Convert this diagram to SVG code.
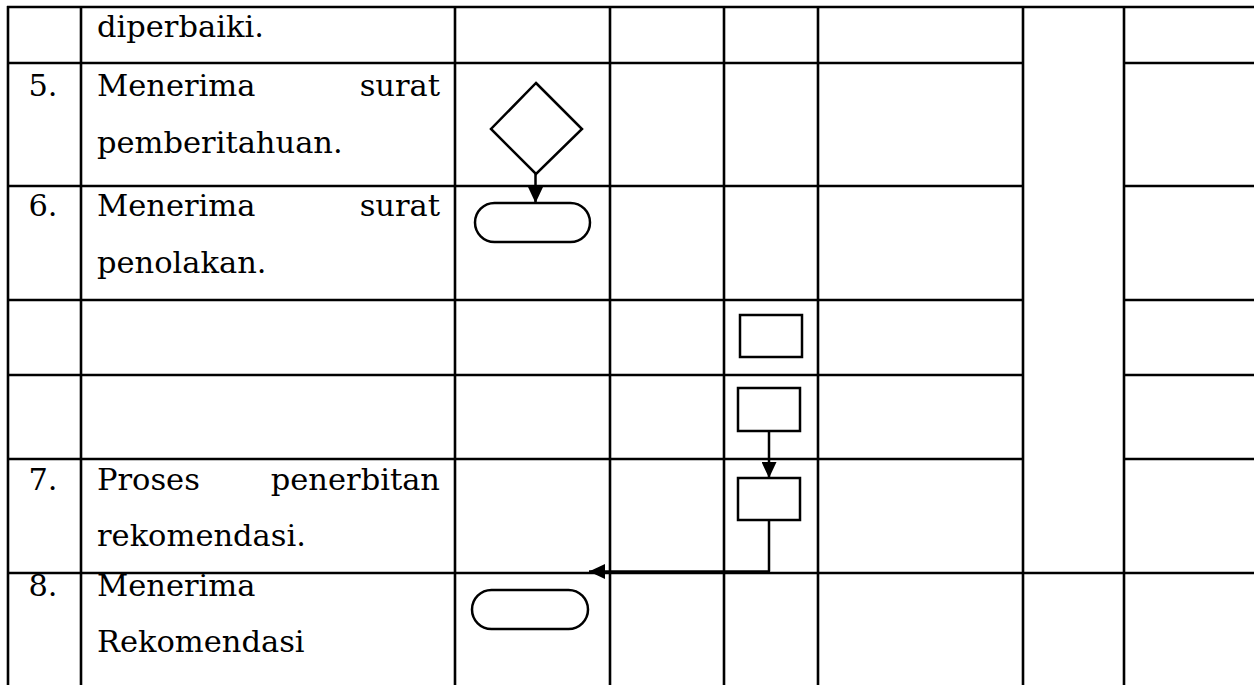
<svg xmlns="http://www.w3.org/2000/svg" width="1254" height="685" viewBox="0 0 1254 685">
<style>
.grid line{stroke:#000;stroke-width:2.6}
.t{font-family:"DejaVu Serif","Liberation Serif",serif;font-size:30.5px;fill:#000}
.n{text-anchor:middle}
.e{text-anchor:end}
.shape{fill:#fff;stroke:#000;stroke-width:2.5}
.conn{fill:none;stroke:#000;stroke-width:2.5}
</style>
<defs>
<marker id="arr" markerUnits="userSpaceOnUse" markerWidth="16" markerHeight="15" refX="16" refY="7.5" orient="auto">
<path d="M0,0 L16,7.5 L0,15 z" fill="#000"/>
</marker>
</defs>
<rect width="1254" height="685" fill="#fff"/>
<g id="table" class="grid">
<line x1="7" y1="7" x2="1254" y2="7"/>
<line x1="8" y1="6" x2="8" y2="685"/>
<line x1="81" y1="6" x2="81" y2="685"/>
<line x1="455" y1="6" x2="455" y2="685"/>
<line x1="610" y1="6" x2="610" y2="685"/>
<line x1="724" y1="6" x2="724" y2="685"/>
<line x1="818" y1="6" x2="818" y2="685"/>
<line x1="1023" y1="6" x2="1023" y2="685"/>
<line x1="1124" y1="6" x2="1124" y2="685"/>
<line x1="8" y1="63" x2="1023" y2="63"/><line x1="1124" y1="63" x2="1254" y2="63"/>
<line x1="8" y1="186" x2="1023" y2="186"/><line x1="1124" y1="186" x2="1254" y2="186"/>
<line x1="8" y1="300" x2="1023" y2="300"/><line x1="1124" y1="300" x2="1254" y2="300"/>
<line x1="8" y1="375" x2="1023" y2="375"/><line x1="1124" y1="375" x2="1254" y2="375"/>
<line x1="8" y1="459" x2="1023" y2="459"/><line x1="1124" y1="459" x2="1254" y2="459"/>
<line x1="8" y1="573" x2="1254" y2="573"/>
</g>
<g id="texts">
<text class="t" x="97" y="37">diperbaiki.</text>
<text class="t n" x="43" y="96">5.</text>
<text class="t" x="97" y="96">Menerima</text>
<text class="t e" x="440" y="96">surat</text>
<text class="t" x="97" y="153">pemberitahuan.</text>
<text class="t n" x="43" y="216">6.</text>
<text class="t" x="97" y="216">Menerima</text>
<text class="t e" x="440" y="216">surat</text>
<text class="t" x="97" y="273">penolakan.</text>
<text class="t n" x="43" y="490">7.</text>
<text class="t" x="97" y="490">Proses</text>
<text class="t e" x="440" y="490">penerbitan</text>
<text class="t" x="97" y="546">rekomendasi.</text>
<text class="t n" x="43" y="596">8.</text>
<text class="t" x="97" y="596">Menerima</text>
<text class="t" x="97" y="652">Rekomendasi</text>
</g>
<g id="decision1"><polygon class="shape" points="536,83 582,129 536,174 491,129"/></g>
<g id="terminator1"><rect class="shape" x="475" y="203" width="115" height="39" rx="19.5"/></g>
<g id="process1"><rect class="shape" x="740" y="315" width="62" height="42"/></g>
<g id="process2"><rect class="shape" x="738" y="388" width="62" height="43"/></g>
<g id="process3"><rect class="shape" x="738" y="478" width="62" height="42"/></g>
<g id="terminator2"><rect class="shape" x="472" y="590" width="116" height="39" rx="19.5"/></g>
<g id="connectors">
<path class="conn" d="M535.5,174 L535.5,203" marker-end="url(#arr)"/>
<path class="conn" d="M769,431 L769,478" marker-end="url(#arr)"/>
<path class="conn" d="M769,520 L769,571.5"/>
<path class="conn" d="M770,571.5 L589,571.5" stroke-width="3.5" marker-end="url(#arr)"/>
</g>
</svg>
